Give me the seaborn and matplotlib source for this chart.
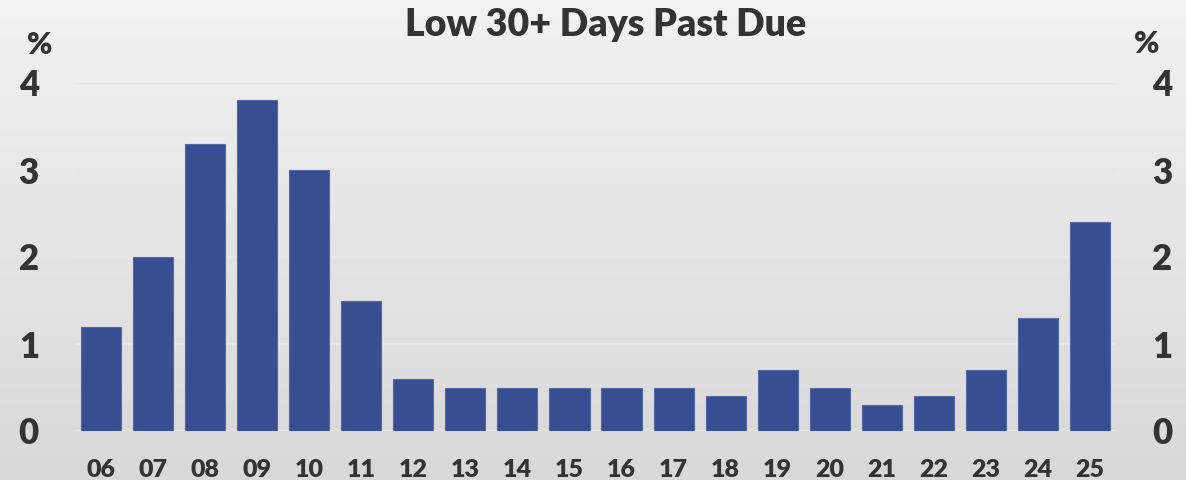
import numpy as np
import matplotlib.pyplot as plt
import pandas as pd
import seaborn as sns

# Chart data
years = ["06", "07", "08", "09", "10", "11", "12", "13", "14", "15",
         "16", "17", "18", "19", "20", "21", "22", "23", "24", "25"]
pct_30_plus = [1.2, 2.0, 3.3, 3.8, 3.0, 1.5, 0.6, 0.5, 0.5, 0.5,
               0.5, 0.5, 0.4, 0.7, 0.5, 0.3, 0.4, 0.7, 1.3, 2.4]
y_ticks = [0, 1, 2, 3, 4]

df = pd.DataFrame({"Year": years, "Pct": pct_30_plus})

sns.set_style("white")
plt.rcParams["font.family"] = ["Lato", "DejaVu Sans"]

text_color = "#333333"
bar_color = "#374E92"
weight = "heavy"

fig = plt.figure(figsize=(11.86, 4.8), dpi=100)

# gradient background over the whole figure
bg = fig.add_axes([0, 0, 1, 1], zorder=-10)
grad = np.linspace(0, 1, 256).reshape(-1, 1)
bg.imshow(grad, aspect="auto", cmap=sns.blend_palette(["#F2F2F2", "#D8D8D8"], as_cmap=True),
          extent=[0, 1, 0, 1], origin="upper")
bg.axis("off")

ax = fig.add_axes([75 / 1186, 49 / 480, 1041 / 1186, 348 / 480])
ax.patch.set_alpha(0)

sns.barplot(data=df, x="Year", y="Pct", color=bar_color, saturation=1,
            width=0.77, linewidth=0.8, edgecolor="#5468A3", ax=ax, zorder=3)

ax.set_ylim(0, 4)
ax.set_xlim(-0.5, len(years) - 0.5)
ax.set_yticks(y_ticks)
ax.yaxis.grid(True, color="#E6E6E6", linewidth=1.5, zorder=0)
ax.set_axisbelow(True)
for s in ax.spines.values():
    s.set_visible(False)
ax.set_xlabel("")
ax.set_ylabel("")
ax.tick_params(axis="x", length=0, pad=20, labelsize=18, labelcolor=text_color)
ax.tick_params(axis="y", length=0, pad=26, labelsize=25, labelcolor=text_color)
for lbl in ax.get_xticklabels() + ax.get_yticklabels():
    lbl.set_fontweight(weight)

# right-hand axis mirrors the left
ax2 = ax.twinx()
ax2.set_ylim(ax.get_ylim())
ax2.set_yticks(y_ticks)
for s in ax2.spines.values():
    s.set_visible(False)
ax2.tick_params(axis="y", length=0, pad=26, labelsize=25, labelcolor=text_color)
for lbl in ax2.get_yticklabels():
    lbl.set_fontweight(weight)

fig.text(40 / 1186, 1 - 45 / 480, "%", ha="center", va="center", fontsize=22,
         fontweight=weight, color=text_color)
fig.text(1147 / 1186, 1 - 44 / 480, "%", ha="center", va="center", fontsize=22,
         fontweight=weight, color=text_color)
fig.text(606 / 1186, 1 - 25 / 480, "Low 30+ Days Past Due", ha="center", va="center",
         fontsize=27, fontweight=weight, color=text_color)

fig.savefig("out.png", dpi=100)
